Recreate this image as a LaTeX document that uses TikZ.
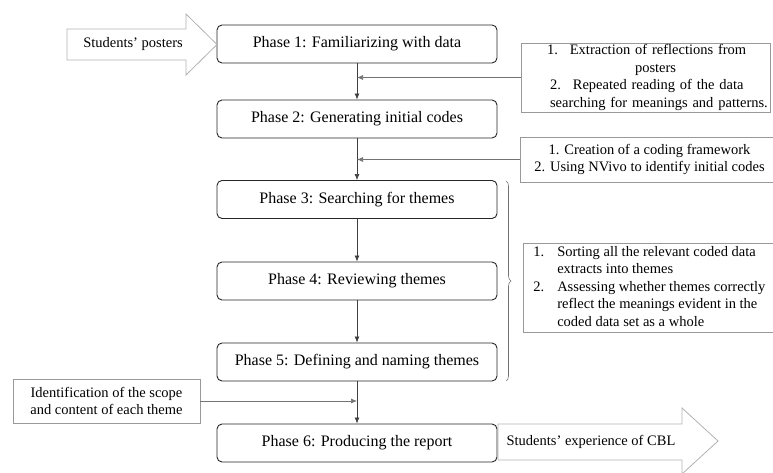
\documentclass[tikz,border=0pt]{standalone}
\usepackage{fontspec}
\setmainfont{Liberation Serif}
\usetikzlibrary{arrows.meta,positioning,calc,decorations.pathreplacing}

\begin{document}
\begin{tikzpicture}[x=1pt,y=-1pt,
  phase/.style={draw=black!85,line width=0.9pt,rounded corners=5pt,minimum width=280pt,minimum height=38pt,inner sep=0pt,font=\fontsize{16}{18}\selectfont},
  note/.style={draw=black!40,line width=0.8pt,inner sep=0pt,font=\fontsize{14.5}{17.5}\selectfont},
  flow/.style={draw=black!75,line width=0.7pt,-{Latex[length=6pt,width=5pt]}},
  feed/.style={draw=black!55,line width=0.7pt,-{Latex[length=6pt,width=5pt]}},
  bigarrow/.style={draw=black!30,line width=0.8pt},
  arrowtext/.style={font=\fontsize{14.5}{17}\selectfont,inner sep=0pt}]
\useasboundingbox (0,0) rectangle (773,473);
\foreach \n/\y/\t in {1/44/{Phase 1: Familiarizing with data},2/119/{Phase 2: Generating initial codes},3/199.5/{Phase 3: Searching for themes},4/281/{Phase 4: Reviewing themes},5/362/{Phase 5: Defining and naming themes},6/443/{Phase 6: Producing the report}}
  \node[phase] (p\n) at (357,\y) {\t};
\foreach \a/\b in {1/2,2/3,3/4,4/5,5/6}
  \draw[flow] (p\a) -- (p\b);
\node[note,minimum height=69pt,text width=249pt,align=left] (s1) at (645.5,77.5)
  {\mbox{\hspace*{26pt}1.\hspace{12pt}Extraction of reflections from}\\
   \mbox{\hspace*{114pt}posters}\\
   \mbox{\hspace*{29pt}2.\hspace{12pt}Repeated reading of the data}\\
   \mbox{\hspace*{29pt}searching for meanings and patterns.}};
\node[note,minimum width=259pt,minimum height=45pt,align=center] (s2) at (649.5,159.5)
  {1. Creation of a coding framework\\2. Using NVivo to identify initial codes};
\node[note,anchor=west,minimum height=89pt,inner xsep=10pt] (s3) at (523,287.5)
  {\begin{tabular}{@{}l@{\hspace{13pt}}l@{}}
   1. & Sorting all the relevant coded data\\
      & extracts into themes\\
   2. & Assessing whether themes correctly\\
      & reflect the meanings evident in the\\
      & coded data set as a whole
   \end{tabular}};
\node[note,minimum width=187pt,minimum height=44pt,align=center] (s4) at (106.5,401)
  {Identification of the scope\\and content of each theme};
\draw[feed] (s1.west) -- (s1.west -| p1.south);
\draw[feed] (s2.west) -- (s2.west -| p2.south);
\draw[feed] (s4.east) -- (s4.east -| p5.south);
\draw[draw=black!55,line width=0.6pt,decorate,decoration={brace,amplitude=5pt}] (506,181) -- (506,381);
\draw[bigarrow] (67,29) -- (186,29) -- (186,14) -- (217,44.5) -- (186,75) -- (186,60) -- (67,60) -- cycle;
\node[arrowtext] (posters) at (133,44.5) {Students' posters};
\draw[bigarrow] (498,424) -- (682,424) -- (682,408) -- (718,441) -- (682,474) -- (682,460) -- (498,460) -- cycle;
\node[arrowtext] (experience) at (591,442) {Students' experience of CBL};
\end{tikzpicture}
\end{document}
